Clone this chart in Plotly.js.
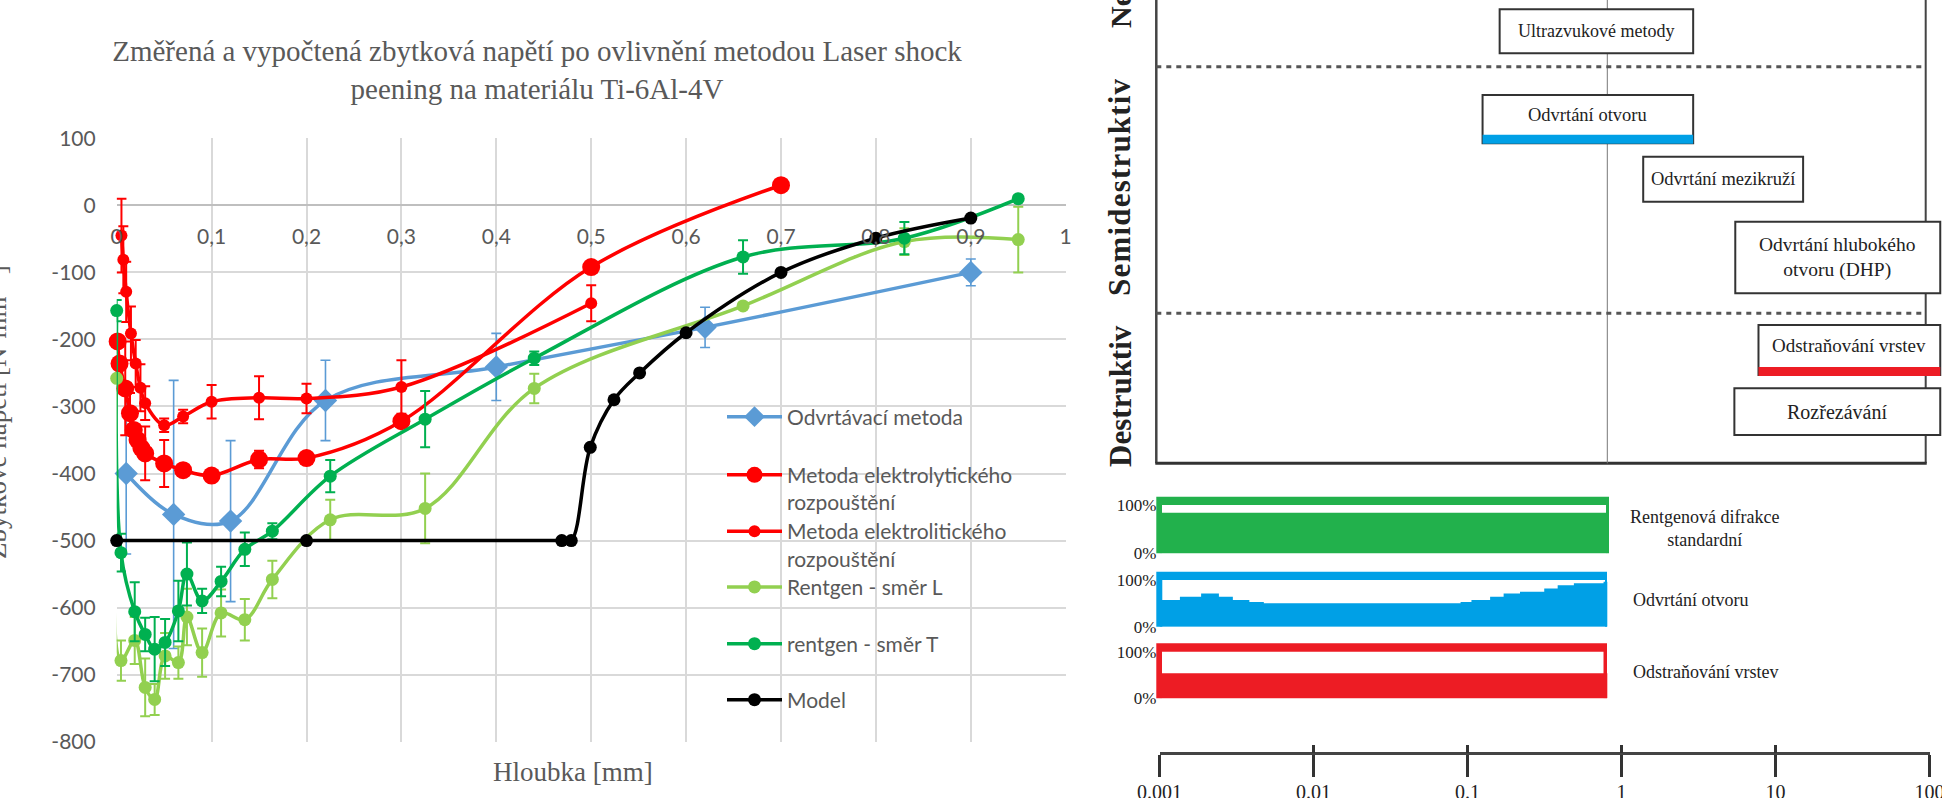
<!DOCTYPE html>
<html>
<head>
<meta charset="utf-8">
<script src="https://cdn.plot.ly/plotly-3.0.1.min.js"></script>
<style>
html,body{margin:0;padding:0;background:#fff;}
#chart{width:1942px;height:798px;}
g.annotation[data-index="9"] text{letter-spacing:1.2px;}
</style>
</head>
<body>
<div id="chart"></div>
<script>
// ---------------- DATA (left chart) ----------------
const odvrtDepth = [0.01, 0.06, 0.12, 0.22, 0.4, 0.62, 0.9];
const odvrtStress = [-400, -461, -471, -291, -241, -182, -100];
const odvrtErr = [120, 200, 120, 60, 50, 30, 20];

const elyDepth = [0.001, 0.003, 0.009, 0.014, 0.018, 0.022, 0.026, 0.03, 0.05, 0.07, 0.1, 0.15, 0.2, 0.3, 0.5, 0.7];
const elyStress = [-203, -236, -273, -310, -335, -350, -362, -370, -385, -395, -403, -379, -377, -322, -92, 30];
const elyErr = [0, 0, 70, 30, 0, 0, 0, 40, 35, 0, 0, 13, 0, 0, 0, 0];

const eliDepth = [0.005, 0.007, 0.01, 0.015, 0.02, 0.025, 0.03, 0.05, 0.07, 0.1, 0.15, 0.2, 0.3, 0.5];
const eliStress = [-45, -81, -129, -191, -236, -272, -295, -328, -315, -293, -287, -288, -271, -146];
const eliErr = [55, 50, 45, 40, 35, 35, 25, 10, 10, 25, 32, 22, 40, 27];

const rtgLDepth = [0, 0.0045, 0.019, 0.03, 0.04, 0.051, 0.065, 0.074, 0.09, 0.11, 0.135, 0.164, 0.225, 0.325, 0.44, 0.66, 0.83, 0.95];
const rtgLStress = [-258, -679, -649, -719, -737, -672, -682, -614, -667, -608, -618, -558, -469, -452, -273, -150, -54, -51];
const rtgLErr = [0, 30, 35, 43, 23, 34, 24, 42, 36, 35, 31, 28, 30, 52, 22, 0, 20, 49];

const rtgTDepth = [0, 0.0045, 0.019, 0.03, 0.04, 0.051, 0.065, 0.074, 0.09, 0.11, 0.135, 0.164, 0.225, 0.325, 0.44, 0.66, 0.83, 0.95];
const rtgTStress = [-157, -518, -606, -640, -662, -652, -605, -550, -590, -561, -513, -486, -404, -319, -228, -77, -49, 10];
const rtgTErr = [16, 28, 44, 25, 48, 35, 45, 47, 18, 22, 25, 12, 24, 42, 10, 25, 24, 0];

const modelDepth = [0, 0.2, 0.469, 0.479, 0.499, 0.524, 0.551, 0.6, 0.7, 0.8, 0.9];
const modelStress = [-500, -500, -500, -500, -361, -290, -250, -190, -100, -49, -19];

const xTickVals = [0, 0.1, 0.2, 0.3, 0.4, 0.5, 0.6, 0.7, 0.8, 0.9, 1];
const xTickText = ['0', '0,1', '0,2', '0,3', '0,4', '0,5', '0,6', '0,7', '0,8', '0,9', '1'];
const yTickVals = [100, 0, -100, -200, -300, -400, -500, -600, -700, -800];
const yTickText = ['100', '0', '-100', '-200', '-300', '-400', '-500', '-600', '-700', '-800'];

// ---------------- DATA (right diagram) ----------------
const methodNames = ['Ultrazvukové metody', 'Odvrtání otvoru', 'Odvrtání mezikruží', 'Odvrtání hlubokého<br>otvoru (DHP)', 'Odstraňování vrstev', 'Rozřezávání'];
const methodMinDepth = [0.19, 0.146, 1.74, 7.2, 10.3, 7.1];
const methodMaxDepth = [3.76, 3.76, 20.5, 170, 170, 170];
const groupLabels = ['Nedestruktivní', 'Semidestruktiv', 'Destruktiv'];

const bandNames = ['Rentgenová difrakce<br>standardní', 'Odvrtání otvoru', 'Odstraňování vrstev'];
const xrayDepth = [0.001, 1];
const xrayCoverage = [84, 84];
const holeDepth = [0.001, 0.00137, 0.0019, 0.0025, 0.0031, 0.004, 0.005, 0.104, 0.123, 0.164, 0.202, 0.26, 0.378, 0.465, 0.597, 0.944, 1];
const holeCoverage = [57, 64, 71, 64, 57, 53, 50, 53, 57, 64, 71, 75, 82, 89, 93, 96, 96];
const layerDepth = [0.001, 1];
const layerCoverage = [54, 54];

const scaleTickVals = [0.001, 0.01, 0.1, 1, 10, 100];
const scaleTickText = ['0.001', '0.01', '0.1', '1', '10', '100'];

// ---------------- LAYOUT HELPERS ----------------
const W = 1942, H = 798;
const px = X => X / W;
const py = Y => 1 - Y / H;

const C = {
  blue: '#5b9bd5', red: '#ff0000', lgreen: '#92d050', dgreen: '#00b050', black: '#000000',
  grid: '#d9d9d9', text: '#595959',
  bandGreen: '#22b14c', bandBlue: '#00a0e6', bandRed: '#ed1c24'
};
const sans = 'Lato, "Open Sans", sans-serif';
const serif = '"Liberation Serif", "DejaVu Serif", serif';

function errs(arr, color, th) {
  return {type: 'data', array: arr, visible: true, color: color, thickness: th || 2, width: 5};
}
function series(name, x, y, err, color, symbol, size, legendId) {
  const t = {
    type: 'scatter', mode: 'lines+markers', name: name, x: x, y: y,
    xaxis: 'x', yaxis: 'y', legend: legendId,
    line: {color: color, width: 3.5, shape: 'spline', smoothing: 1},
    marker: {color: color, symbol: symbol, size: size},
    cliponaxis: false, hoverinfo: 'x+y+name'
  };
  if (err) t.error_y = errs(err, color, color === C.blue ? 1.6 : 2);
  return t;
}

const traces = [
  series('Odvrtávací metoda', odvrtDepth, odvrtStress, odvrtErr, C.blue, 'diamond', 18, 'legend'),
  series('Metoda elektrolytického<br>rozpouštění', elyDepth, elyStress, elyErr, C.red, 'circle', 18, 'legend2'),
  series('Metoda elektrolitického<br>rozpouštění', eliDepth, eliStress, eliErr, C.red, 'circle', 12, 'legend3'),
  series('Rentgen - směr L', rtgLDepth, rtgLStress, rtgLErr, C.lgreen, 'circle', 13, 'legend4'),
  series('rentgen - směr T', rtgTDepth, rtgTStress, rtgTErr, C.dgreen, 'circle', 13, 'legend5'),
  series('Model', modelDepth, modelStress, null, C.black, 'circle', 13, 'legend6')
];

// band fill traces (right diagram, lower part)
const bandData = [
  {x: xrayDepth, y: xrayCoverage, color: C.bandGreen, yaxis: 'y5', shape: 'linear'},
  {x: holeDepth, y: holeCoverage, color: C.bandBlue, yaxis: 'y6', shape: 'hv'},
  {x: layerDepth, y: layerCoverage, color: C.bandRed, yaxis: 'y7', shape: 'linear'}
];
bandData.forEach((b, i) => {
  traces.push({
    type: 'scatter', mode: 'lines', x: b.x, y: b.y, xaxis: 'x4', yaxis: b.yaxis,
    line: {width: 0, color: b.color, shape: b.shape}, fill: 'tozeroy', fillcolor: b.color,
    showlegend: false, hoverinfo: 'skip', name: bandNames[i].replace('<br>', ' ')
  });
});
// empty traces so that the bottom depth scale (x2 + its inner ticks x3) gets a subplot
traces.push({type: 'scatter', mode: 'none', x: [], y: [], xaxis: 'x2', yaxis: 'y8', showlegend: false, hoverinfo: 'skip'});
traces.push({type: 'scatter', mode: 'none', x: [], y: [], xaxis: 'x3', yaxis: 'y8', showlegend: false, hoverinfo: 'skip'});

// legends (one per entry, to keep Excel-like fixed slots)
const legendCenters = [417, 488.7, 545, 587.3, 644, 700];
const legendValign = ['middle', 'top', 'top', 'middle', 'middle', 'middle'];
const legendX = 722;

const layout = {
  width: W, height: H,
  margin: {l: 0, r: 0, t: 0, b: 0, pad: 0},
  paper_bgcolor: '#ffffff', plot_bgcolor: 'rgba(0,0,0,0)',
  showlegend: true,
  title: {
    text: 'Změřená a vypočtená zbytková napětí po ovlivnění metodou Laser shock<br>peening na materiálu Ti-6Al-4V',
    x: px(537), xanchor: 'center', xref: 'container',
    y: py(61), yanchor: 'middle', yref: 'container',
    font: {family: serif, size: 29, color: C.text}
  },
  xaxis: {
    domain: [px(116.7), px(1065.7)], range: [0, 1], anchor: 'free', position: py(205.3),
    tickmode: 'array', tickvals: xTickVals, ticktext: xTickText,
    showgrid: true, gridcolor: C.grid, gridwidth: 1.5, zeroline: false, showline: false,
    ticks: '', tickfont: {family: sans, size: 21, color: C.text}, ticklabelstandoff: 17,
    fixedrange: true
  },
  yaxis: {
    domain: [py(741.7), py(138.3)], range: [-800, 100], anchor: 'x',
    tickmode: 'array', tickvals: yTickVals, ticktext: yTickText,
    showgrid: true, gridcolor: C.grid, gridwidth: 1.5,
    zeroline: true, zerolinecolor: '#bfbfbf', zerolinewidth: 2, showline: false,
    ticks: '', tickfont: {family: sans, size: 21, color: C.text}, ticklabelstandoff: 20,
    fixedrange: true
  },
  // bottom logarithmic depth scale of the right diagram
  xaxis2: {
    type: 'log', domain: [px(1159.6), px(1929.5)], range: [-3, 2.0005], anchor: 'free', position: py(753.3),
    tickmode: 'array', tickvals: scaleTickVals, ticktext: scaleTickText, ticklabeloverflow: 'allow',
    showline: true, linecolor: '#444', linewidth: 3, ticks: 'outside', ticklen: 22, tickwidth: 2.5, tickcolor: '#333',
    showgrid: false, zeroline: false, tickfont: {family: serif, size: 20, color: '#222'}, ticklabelstandoff: -2,
    fixedrange: true
  },
  xaxis3: {
    type: 'log', domain: [px(1159.6), px(1929.5)], range: [-3, 2.0005], anchor: 'free', position: py(753.3),
    overlaying: 'x2', tickmode: 'array', tickvals: scaleTickVals, showticklabels: false,
    showline: false, ticks: 'inside', ticklen: 8, tickwidth: 2.5, tickcolor: '#333',
    showgrid: false, zeroline: false, fixedrange: true
  },
  yaxis8: {domain: [0, 0.04], anchor: 'x2', visible: false, range: [0, 1], fixedrange: true},
  // hidden scale of the upper diagram and bands
  xaxis4: {
    type: 'log', domain: [px(1159.5), 1], range: [-3, 2.2422], anchor: 'y5', visible: false, fixedrange: true
  },
  annotations: [],
  shapes: []
};

// band y-axes
const bandInner = [[505, 553.3], [580, 626.7], [651.7, 698.3]];
['yaxis5', 'yaxis6', 'yaxis7'].forEach((k, i) => {
  layout[k] = {
    domain: [py(bandInner[i][1]), py(bandInner[i][0])], range: [0, 100], anchor: 'x4',
    tickmode: 'array', tickvals: [0, 100], ticktext: ['0%', '100%'],
    showgrid: false, zeroline: false, showline: false, ticks: '',
    tickfont: {family: serif, size: 17, color: '#222'}, ticklabelstandoff: 2, fixedrange: true
  };
});

// legends
traces.slice(0, 6).forEach((t, i) => {
  const key = i === 0 ? 'legend' : 'legend' + (i + 1);
  layout[key] = {
    x: px(legendX), xanchor: 'left', y: py(legendCenters[i]), yanchor: 'middle',
    bgcolor: 'rgba(0,0,0,0)', borderwidth: 0, itemwidth: 55, valign: legendValign[i],
    font: {family: sans, size: 21, color: C.text}, itemclick: false, itemdoubleclick: false
  };
});

// axis titles (left chart) -- annotations 0, 1
layout.annotations.push({
  text: 'Hloubka [mm]', xref: 'paper', yref: 'paper', x: px(573), y: py(772),
  xanchor: 'center', yanchor: 'middle', showarrow: false, font: {family: serif, size: 27, color: C.text}
});
layout.annotations.push({
  text: 'Zbytkové napětí [N·mm⁻²]', xref: 'paper', yref: 'paper', x: px(-3), y: py(412),
  xanchor: 'center', yanchor: 'middle', textangle: -90, showarrow: false,
  font: {family: serif, size: 27, color: C.text}
});

// ---------- right diagram: frame ----------
const frameL = 1156.3, frameR = 1925.7, frameB = 463.3;
const S = layout.shapes;
S.push({type: 'line', xref: 'paper', yref: 'paper', x0: px(frameL), x1: px(frameL), y0: py(-5), y1: py(frameB), line: {color: '#444', width: 2.5}});
S.push({type: 'line', xref: 'paper', yref: 'paper', x0: px(frameR), x1: px(frameR), y0: py(-5), y1: py(frameB), line: {color: '#444', width: 2}});
S.push({type: 'line', xref: 'paper', yref: 'paper', x0: px(frameL - 1), x1: px(frameR + 1), y0: py(frameB), y1: py(frameB), line: {color: '#333', width: 3}});
S.push({type: 'line', xref: 'x4', yref: 'paper', x0: 1, x1: 1, y0: py(-5), y1: py(frameB), line: {color: '#777', width: 1}});
[66.7, 313.3].forEach(Y => {
  S.push({type: 'line', xref: 'paper', yref: 'paper', x0: px(frameL), x1: px(frameR), y0: py(Y), y1: py(Y), line: {color: '#555', width: 3, dash: '5px,5px'}});
});

// method boxes -- annotations 2..7
const boxRows = [[9.3, 53.3], [95, 143.3], [156.7, 201.7], [221.7, 293.3], [325, 375], [388.3, 435]];
const boxFont = [18, 18.5, 18.5, 19.5, 19, 20];
methodNames.forEach((nm, i) => {
  S.push({type: 'rect', xref: 'x4', yref: 'paper', x0: methodMinDepth[i], x1: methodMaxDepth[i],
    y0: py(boxRows[i][1]), y1: py(boxRows[i][0]), fillcolor: '#ffffff', line: {color: '#333', width: 2}});
  const cx = (Math.log10(methodMinDepth[i]) + Math.log10(methodMaxDepth[i])) / 2;
  let cy = (boxRows[i][0] + boxRows[i][1]) / 2;
  if (i === 1 || i === 4) cy -= 4;
  layout.annotations.push({text: nm, xref: 'x4', yref: 'paper', x: cx, y: py(cy), xanchor: 'center', yanchor: 'middle',
    showarrow: false, font: {family: serif, size: boxFont[i], color: '#222'}});
});
// coloured underlines for the methods that have a band below
S.push({type: 'line', xref: 'x4', yref: 'paper', x0: methodMinDepth[1], x1: methodMaxDepth[1], y0: py(139.3), y1: py(139.3), line: {color: C.bandBlue, width: 9}});
S.push({type: 'line', xref: 'x4', yref: 'paper', x0: methodMinDepth[4], x1: methodMaxDepth[4], y0: py(371.5), y1: py(371.5), line: {color: C.bandRed, width: 9}});

// group labels (rotated) -- annotations 8, 9, 10
const groupY = [[30, 'bottom'], [186.7, 'middle'], [396, 'middle']];
const groupSize = [30, 31, 31];
groupLabels.forEach((g, i) => {
  layout.annotations.push({text: g, xref: 'paper', yref: 'paper', x: px(1119.9), y: py(groupY[i][0]),
    xanchor: 'center', yanchor: groupY[i][1], textangle: -90, showarrow: false,
    font: {family: serif, size: groupSize[i], color: '#222', weight: 'bold'}});
});

// bands: outer coloured frame + inner white area (fills drawn by traces)
const bandOuter = [[496.7, 553.3, 1156.3, 1609], [571.7, 626.7, 1156.3, 1607], [643.3, 698.3, 1156.3, 1607]];
const bandInnerX = [[1162, 1606], [1162.3, 1605], [1162, 1603.5]];
const bandColors = [C.bandGreen, C.bandBlue, C.bandRed];
bandOuter.forEach((o, i) => {
  S.push({type: 'rect', layer: 'below', xref: 'paper', yref: 'paper', x0: px(o[2]), x1: px(o[3]), y0: py(o[1]), y1: py(o[0]),
    fillcolor: bandColors[i], line: {width: 0}});
  S.push({type: 'rect', layer: 'below', xref: 'paper', yref: 'paper', x0: px(bandInnerX[i][0]), x1: px(bandInnerX[i][1]),
    y0: py(o[1]), y1: py(bandInner[i][0]), fillcolor: '#ffffff', line: {width: 0}});
});
const bandLabelPos = [[1704, 528], [1690.5, 600], [1705.7, 672.3]];
bandNames.forEach((b, i) => {
  layout.annotations.push({text: b, xref: 'paper', yref: 'paper', x: px(bandLabelPos[i][0]), y: py(bandLabelPos[i][1]),
    xanchor: 'center', yanchor: 'middle', showarrow: false, font: {family: serif, size: 18, color: '#222'}});
});

Plotly.newPlot('chart', traces, layout, {displayModeBar: false, responsive: false});
</script>
</body>
</html>
